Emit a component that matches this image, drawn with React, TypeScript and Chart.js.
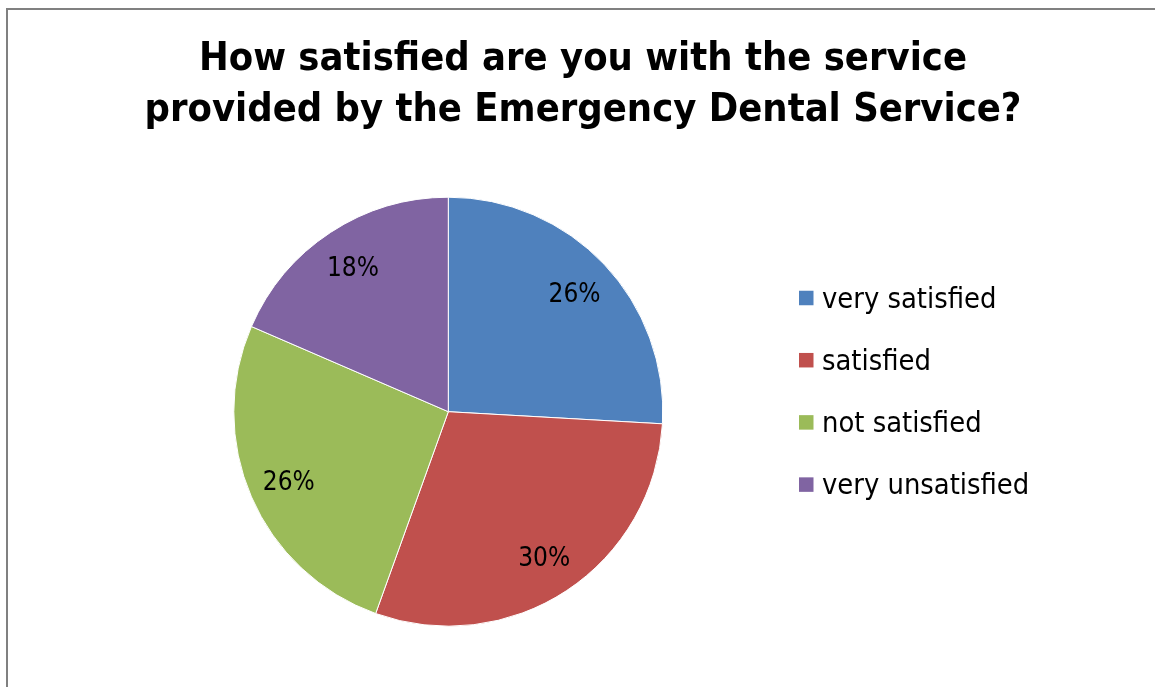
import React, { useEffect, useRef } from "react";
import { Chart, registerables } from "chart.js";

Chart.register(...registerables);

const categories = ["very satisfied", "satisfied", "not satisfied", "very unsatisfied"];
const shares = [25.9, 29.6, 26.0, 18.5];
const shareLabels = ["26%", "30%", "26%", "18%"];
const sliceColors = ["#4F81BD", "#C0504D", "#9BBB59", "#8064A2"];
const titleLines = [
  "How satisfied are you with the service",
  "provided by the Emergency Dental Service?",
];

const FONT = "'DejaVu Sans Condensed', 'DejaVu Sans', sans-serif";

const titlePlugin = {
  id: "customTitle",
  afterDraw(chart: any) {
    const ctx = chart.ctx;
    ctx.save();
    ctx.fillStyle = "#000";
    ctx.font = `bold 39.5px ${FONT}`;
    ctx.textAlign = "center";
    ctx.textBaseline = "alphabetic";
    titleLines.forEach((line, i) => {
      ctx.fillText(line, 583, 70 + i * 50.5);
    });
    ctx.restore();
  },
};

const sliceLabelPlugin = {
  id: "sliceLabels",
  afterDatasetsDraw(chart: any) {
    const ctx = chart.ctx;
    const meta = chart.getDatasetMeta(0);
    ctx.save();
    ctx.fillStyle = "#000";
    ctx.font = `26px ${FONT}`;
    ctx.textAlign = "center";
    ctx.textBaseline = "alphabetic";
    meta.data.forEach((arc: any, i: number) => {
      const { x, y, startAngle, endAngle, outerRadius } = arc.getProps(
        ["x", "y", "startAngle", "endAngle", "outerRadius"],
        true
      );
      const mid = (startAngle + endAngle) / 2;
      const r = outerRadius * 0.81;
      ctx.fillText(shareLabels[i], x + Math.cos(mid) * r, y + Math.sin(mid) * r + 9.6);
    });
    ctx.restore();
  },
};

const legendPlugin = {
  id: "customLegend",
  afterDraw(chart: any) {
    const ctx = chart.ctx;
    const labels = chart.data.labels as string[];
    const colors = chart.data.datasets[0].backgroundColor as string[];
    const boxX = 799;
    const firstY = 298;
    const step = 62.2;
    const box = 14.5;
    ctx.save();
    ctx.font = `28.8px ${FONT}`;
    ctx.textAlign = "left";
    ctx.textBaseline = "alphabetic";
    labels.forEach((lab, i) => {
      const cy = firstY + i * step;
      ctx.fillStyle = colors[i];
      ctx.fillRect(boxX, cy - box / 2, box, box);
      ctx.fillStyle = "#000";
      ctx.fillText(lab, 822, cy + 9.7);
    });
    ctx.restore();
  },
};

export default function App() {
  const canvasRef = useRef<HTMLCanvasElement | null>(null);

  useEffect(() => {
    let chart: Chart | null = null;
    let cancelled = false;
    const make = () => {
      if (cancelled || !canvasRef.current) return;
      chart = new Chart(canvasRef.current, {
        type: "pie",
        data: {
          labels: categories,
          datasets: [
            {
              data: shares,
              backgroundColor: sliceColors,
              borderColor: "#ffffff",
              borderWidth: 1,
              radius: 214.5,
            } as any,
          ],
        },
        options: {
          responsive: false,
          animation: false,
          layout: { padding: { left: 0, right: 258.4, top: 136.4, bottom: 0 } },
          plugins: {
            legend: { display: false },
            title: { display: false },
            tooltip: { enabled: false },
          },
        },
        plugins: [titlePlugin, sliceLabelPlugin, legendPlugin],
      });
    };
    const fonts: any = (document as any).fonts;
    if (fonts && fonts.load) {
      Promise.all([
        fonts.load(`bold 40px 'DejaVu Sans Condensed'`),
        fonts.load(`26px 'DejaVu Sans Condensed'`),
      ])
        .catch(() => {})
        .then(make);
    } else {
      make();
    }
    return () => {
      cancelled = true;
      if (chart) chart.destroy();
    };
  }, []);

  return (
    <div style={{ position: "absolute", left: 0, top: 0, width: 1155, height: 687, overflow: "hidden", background: "#fff" }}>
      <canvas ref={canvasRef} width={1155} height={687} style={{ position: "absolute", left: 0, top: 0 }} />
      <div
        style={{
          position: "absolute",
          left: 6,
          top: 8,
          width: 1160,
          height: 700,
          borderLeft: "2px solid #808080",
          borderTop: "2px solid #808080",
          boxSizing: "border-box",
          pointerEvents: "none",
        }}
      />
    </div>
  );
}
